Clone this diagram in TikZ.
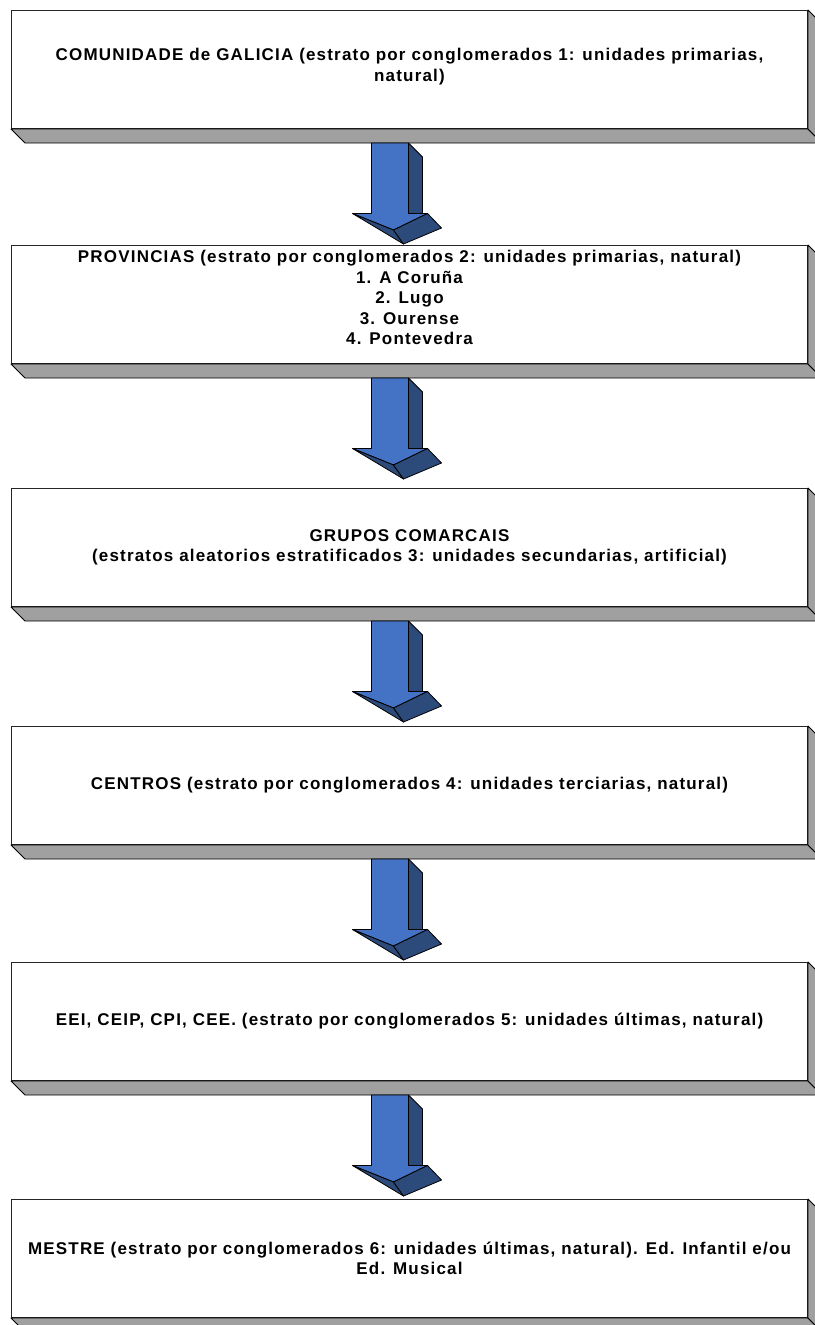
\documentclass[tikz,border=0pt]{standalone}
\usepackage{fontspec}
\setmainfont[LetterSpace=7]{Liberation Sans}
\usetikzlibrary{calc}
\definecolor{arrfront}{HTML}{4472C4}
\definecolor{arrdark}{HTML}{2C4A7A}
\definecolor{bevelgray}{HTML}{A0A0A0}
\begin{document}
\begin{tikzpicture}[x=1pt,y=-1pt]
\useasboundingbox (0,0) rectangle (814,1325);
\tikzset{
  frontbox/.style={draw=black!85, line width=1pt, fill=white, minimum width=796pt,
    minimum height=118pt, inner sep=0pt, anchor=north west},
  boxtext/.style={font=\bfseries\fontsize{17}{20.5}\selectfont, align=center, inner sep=0pt},
  bevelface/.style={fill=bevelgray, draw=black, line width=0.8pt, line join=round},
  arrowfront/.style={fill=arrfront, draw=black, line width=0.8pt, line join=round},
  arrowside/.style={fill=arrdark, draw=black, line width=0.8pt, line join=round},
  blockarrow/.pic={
    \draw[arrowside] (18.5,0) -- (32.5,14) -- (32.5,71) -- (18.5,71) -- cycle;
    \draw[arrowfront] (-18.5,0) -- (18.5,0) -- (18.5,70.5) -- (37.5,70.5) -- (3.5,87)
      -- (-37.5,70.5) -- (-18.5,70.5) -- cycle;
    \draw[arrowside] (-37.5,70.5) -- (3.5,87) -- (13.5,101) -- cycle;
    \draw[arrowside] (3.5,87) -- (37.5,70.5) -- (51.5,85) -- (13.5,101) -- cycle;
  }
}
\newcommand{\bevelbox}[1]{%
  \draw[bevelface] (#1.south west) -- (#1.south east) -- ($(#1.south east)+(14,14)$)
    -- ($(#1.south west)+(14,14)$) -- cycle;
  \draw[bevelface] (#1.north east) -- ($(#1.north east)+(14,14)$)
    -- ($(#1.south east)+(14,14)$) -- (#1.south east) -- cycle;
}
% boxes
\node[frontbox] (b1) at (11,10) {};
\node[frontbox] (b2) at (11,245) {};
\node[frontbox] (b3) at (11,488) {};
\node[frontbox] (b4) at (11,726) {};
\node[frontbox] (b5) at (11,962) {};
\node[frontbox] (b6) at (11,1199) {};
\foreach \b in {b1,b2,b3,b4,b5,b6} {\bevelbox{\b}}
% texts
\node[boxtext] (t1) at ($(b1.center)+(0,-3)$) {COMUNIDADE de GALICIA (estrato por conglomerados 1: unidades primarias,\\natural)};
\node[boxtext] (t2) at ($(b2.center)+(0,-7)$) {PROVINCIAS (estrato por conglomerados 2: unidades primarias, natural)\\1. A Coruña\\2. Lugo\\3. Ourense\\4. Pontevedra};
\node[boxtext] (t3) at (b3.center) {GRUPOS COMARCAIS\\(estratos aleatorios estratificados 3: unidades secundarias, artificial)};
\node[boxtext] (t4) at (b4.center) {CENTROS (estrato por conglomerados 4: unidades terciarias, natural)};
\node[boxtext] (t5) at (b5.center) {EEI, CEIP, CPI, CEE. (estrato por conglomerados 5: unidades últimas, natural)};
\node[boxtext] (t6) at (b6.center) {MESTRE (estrato por conglomerados 6: unidades últimas, natural). Ed. Infantil e/ou\\Ed. Musical};
% arrows
\foreach \b in {b1,b2,b3,b4,b5} {
  \pic at ($(\b.south)+(-19.5,14)$) {blockarrow};
}
\end{tikzpicture}
\end{document}
